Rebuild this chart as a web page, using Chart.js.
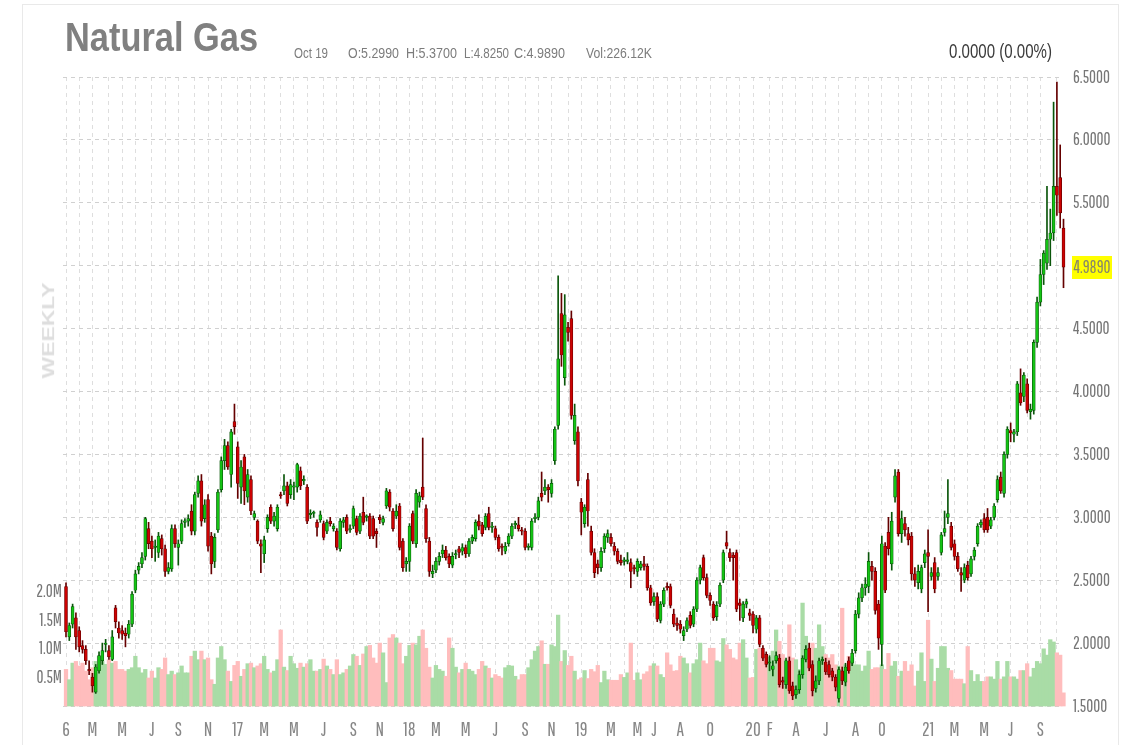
<!DOCTYPE html>
<html><head><meta charset="utf-8">
<script src="https://cdn.jsdelivr.net/npm/chart.js@4.4.0/dist/chart.umd.min.js"></script>
<style>
html,body{margin:0;padding:0;background:#fff;}
#wrap{position:relative;width:1132px;height:745px;overflow:hidden;background:#fff;}
#frame{position:absolute;left:22px;top:4px;width:1097px;height:800px;border:1px solid #e9e9e9;box-sizing:border-box;}
#c{position:absolute;left:0;top:0;}
.t{position:absolute;white-space:nowrap;line-height:1;font-family:"Liberation Sans",Arial,sans-serif;}
</style></head>
<body><div id="wrap"><div id="frame"></div><canvas id="c" width="1132" height="745"></canvas></div>
<script>
// ---------------- DATA (weekly, from week of 4 Jan 2016) ----------------
// rows: [open, high, low, close]
const candles2016 = [
[2.45,2.48,2.05,2.09],[2.05,2.16,2.02,2.14],[2.15,2.31,2.12,2.29],[2.20,2.24,1.95,2.05],[2.10,2.13,1.93,1.97],
[1.98,2.02,1.92,1.95],[1.95,1.98,1.83,1.86],[1.79,1.86,1.75,1.78],[1.73,1.76,1.61,1.66],[1.61,1.83,1.60,1.81],
[1.78,1.93,1.76,1.90],[1.86,2.00,1.83,1.94],[1.99,2.03,1.93,2.00],[1.94,1.98,1.87,1.89],[1.87,2.10,1.86,2.05],
[2.28,2.30,2.12,2.17],[2.12,2.17,2.04,2.08],[2.10,2.14,2.03,2.07],[2.08,2.12,1.97,2.06],[2.07,2.18,2.04,2.15],
[2.15,2.41,2.13,2.39],[2.42,2.58,2.40,2.55],[2.58,2.64,2.55,2.61],[2.63,2.72,2.60,2.68],[2.69,3.00,2.66,2.99],
[2.91,2.96,2.75,2.79],[2.81,2.85,2.68,2.75],[2.76,2.82,2.65,2.77],[2.72,2.88,2.68,2.85],[2.83,2.86,2.70,2.75],
[2.75,2.78,2.53,2.57],[2.57,2.64,2.55,2.60],[2.59,2.94,2.57,2.91],[2.91,2.94,2.76,2.79],[2.76,2.82,2.62,2.79],
[2.81,2.98,2.79,2.95],[2.96,2.99,2.92,2.97],[2.97,3.02,2.93,2.99],[3.05,3.10,2.86,2.89],[2.89,3.20,2.86,3.18],
[3.19,3.33,3.16,3.29],[3.29,3.34,2.93,2.97],[2.99,3.14,2.96,3.10],[3.14,3.18,2.73,2.77],[2.85,2.88,2.55,2.63],
[2.65,2.87,2.60,2.84],[2.90,3.22,2.88,3.20],[3.22,3.48,3.20,3.45],[3.45,3.62,3.38,3.57],[3.57,3.60,3.38,3.40],
[3.34,3.70,3.24,3.68],[3.76,3.90,3.66,3.72]];
const candles2017 = [
[3.56,3.60,3.15,3.27],[3.24,3.45,3.11,3.40],[3.48,3.50,3.10,3.21],[3.16,3.38,3.12,3.34],[3.30,3.33,3.02,3.05],
[3.00,3.05,2.98,3.03],[2.97,2.98,2.79,2.81],[2.79,2.82,2.56,2.77],[2.71,2.85,2.64,2.82],[2.91,3.02,2.88,3.00],
[3.08,3.10,2.95,2.97],[2.97,3.04,2.93,3.01],[2.91,3.10,2.89,3.08],[3.18,3.20,3.15,3.17],[3.21,3.34,3.18,3.25],
[3.25,3.28,3.09,3.11],[3.18,3.30,3.15,3.26],[3.24,3.28,3.14,3.25],[3.24,3.43,3.20,3.42],[3.37,3.40,3.22,3.25],
[3.29,3.33,3.26,3.30],[3.24,3.26,2.95,2.97],[3.02,3.06,2.99,3.03],[3.03,3.05,3.00,3.03],[2.96,2.98,2.85,2.92],
[2.98,3.05,2.96,3.02],[2.95,2.97,2.82,2.84],[2.89,2.98,2.87,2.96],[2.97,3.00,2.93,2.95],[2.91,2.95,2.89,2.93],
[2.89,2.91,2.74,2.76],[2.75,2.99,2.73,2.97],[2.96,3.00,2.92,2.98],[3.00,3.02,2.87,2.89],[2.90,2.94,2.88,2.91],
[2.93,3.09,2.91,3.07],[2.99,3.01,2.86,2.88],[2.89,3.03,2.87,3.01],[3.04,3.16,2.94,2.96],[3.00,3.02,2.97,3.00],
[3.01,3.03,2.83,2.85],[2.99,3.01,2.83,2.85],[2.89,2.91,2.76,2.87],[3.00,3.02,2.95,2.98],[2.96,3.01,2.94,2.99],
[3.09,3.23,3.07,3.21],[3.20,3.22,3.05,3.08],[3.05,3.07,2.89,2.91],[3.01,3.10,2.99,3.05],[3.09,3.11,2.74,2.76],
[2.81,2.83,2.57,2.60],[2.63,2.68,2.57,2.65],[2.65,2.95,2.57,2.93],[3.03,3.05,2.79,2.81]];
const candles2018 = [
[2.79,3.22,2.76,3.19],[3.12,3.20,3.08,3.17],[3.24,3.63,3.14,3.16],[3.07,3.10,2.80,2.83],[2.81,2.84,2.53,2.57],
[2.55,2.62,2.52,2.57],[2.58,2.68,2.56,2.65],[2.65,2.72,2.62,2.69],[2.71,2.78,2.68,2.74],[2.74,2.77,2.66,2.68],
[2.69,2.71,2.60,2.63],[2.62,2.72,2.60,2.69],[2.70,2.74,2.67,2.71],[2.75,2.77,2.68,2.72],[2.73,2.79,2.70,2.76],
[2.76,2.78,2.68,2.71],[2.71,2.83,2.69,2.81],[2.81,2.86,2.79,2.84],[2.83,2.98,2.81,2.96],[2.97,3.02,2.90,2.93],
[2.94,2.96,2.85,2.87],[2.92,3.03,2.90,3.01],[3.03,3.08,2.90,2.92],[2.92,2.96,2.88,2.93],[2.91,2.93,2.82,2.84],
[2.84,2.86,2.73,2.75],[2.77,2.79,2.70,2.76],[2.73,2.80,2.71,2.77],[2.79,2.87,2.77,2.85],[2.85,2.95,2.83,2.93],
[2.94,2.97,2.91,2.94],[2.94,3.00,2.89,2.91],[2.90,2.92,2.86,2.89],[2.89,2.91,2.74,2.76],[2.76,2.79,2.74,2.76],
[2.76,2.99,2.74,2.97],[2.99,3.03,2.96,3.00],[3.00,3.16,2.98,3.13],[3.19,3.36,3.13,3.16],[3.21,3.30,3.18,3.24],
[3.24,3.26,3.12,3.22],[3.19,3.30,3.16,3.27],[3.45,3.72,3.42,3.70],[3.73,4.92,3.70,4.26],[4.62,4.78,4.20,4.29],
[4.11,4.77,4.05,4.61],[4.51,4.55,4.40,4.47],[4.58,4.64,3.78,3.81],[3.61,3.90,3.58,3.81],[3.68,3.72,3.25,3.29],
[3.12,3.15,2.86,3.04],[2.95,3.10,2.92,3.08]];
const candles2019 = [
[3.30,3.35,2.93,3.05],[2.89,2.93,2.70,2.72],[2.72,2.75,2.52,2.56],[2.63,2.66,2.55,2.60],[2.60,2.76,2.57,2.73],
[2.75,2.87,2.72,2.85],[2.84,2.90,2.80,2.87],[2.84,2.87,2.77,2.79],[2.77,2.80,2.70,2.73],[2.73,2.75,2.63,2.65],
[2.66,2.70,2.62,2.64],[2.65,2.68,2.62,2.66],[2.65,2.72,2.63,2.66],[2.64,2.67,2.44,2.57],[2.60,2.62,2.55,2.59],
[2.57,2.67,2.53,2.65],[2.60,2.65,2.58,2.63],[2.63,2.69,2.58,2.61],[2.61,2.63,2.42,2.44],[2.44,2.46,2.30,2.32],
[2.33,2.40,2.30,2.37],[2.37,2.40,2.17,2.19],[2.18,2.33,2.16,2.31],[2.31,2.44,2.29,2.42],[2.45,2.48,2.42,2.44],
[2.45,2.47,2.28,2.30],[2.23,2.27,2.13,2.15],[2.16,2.20,2.10,2.14],[2.15,2.18,2.08,2.11],[2.06,2.13,2.02,2.10],
[2.11,2.20,2.09,2.18],[2.22,2.25,2.12,2.14],[2.15,2.29,2.13,2.27],[2.27,2.52,2.25,2.50],[2.50,2.62,2.47,2.60],
[2.68,2.70,2.50,2.52],[2.52,2.55,2.36,2.38],[2.38,2.40,2.30,2.34],[2.31,2.33,2.18,2.20],[2.21,2.33,2.18,2.30],
[2.31,2.48,2.29,2.46],[2.50,2.74,2.48,2.72],[2.80,2.89,2.75,2.77],[2.72,2.75,2.65,2.68],[2.70,2.72,2.50,2.68],
[2.72,2.74,2.25,2.27],[2.32,2.35,2.18,2.30],[2.20,2.33,2.17,2.31],[2.31,2.35,2.28,2.33],[2.24,2.27,2.18,2.22],
[2.23,2.25,2.08,2.14],[2.11,2.22,2.08,2.20]];
const candles2020 = [
[2.20,2.22,1.97,1.99],[1.96,1.98,1.86,1.88],[1.91,1.93,1.81,1.83],[1.84,1.90,1.78,1.85],[1.79,1.86,1.74,1.82],
[1.86,1.93,1.84,1.90],[1.88,1.91,1.65,1.67],[1.70,1.73,1.64,1.69],[1.67,1.88,1.64,1.86],[1.86,1.89,1.60,1.62],
[1.66,1.69,1.55,1.58],[1.59,1.66,1.56,1.63],[1.63,1.78,1.60,1.75],[1.75,1.90,1.72,1.88],[1.87,1.98,1.85,1.95],
[1.96,2.00,1.78,1.80],[1.83,1.86,1.58,1.62],[1.64,1.74,1.61,1.70],[1.70,1.88,1.67,1.86],[1.86,1.89,1.83,1.87],
[1.85,1.88,1.75,1.77],[1.83,1.86,1.73,1.75],[1.78,1.80,1.70,1.73],[1.73,1.75,1.62,1.65],[1.56,1.81,1.53,1.79],
[1.78,1.81,1.67,1.70],[1.69,1.84,1.66,1.81],[1.86,1.89,1.76,1.78],[1.84,1.95,1.82,1.92],[1.94,2.26,1.92,2.23],
[2.23,2.40,2.20,2.36],[2.36,2.47,2.33,2.44],[2.44,2.52,2.38,2.47],[2.45,2.72,2.40,2.65],[2.61,2.65,2.50,2.57],
[2.57,2.60,2.23,2.26],[2.31,2.34,1.95,2.04],[1.99,2.85,1.82,2.79],[2.77,2.80,2.40,2.42],[2.88,3.00,2.70,2.75],
[2.63,3.04,2.58,2.97],[3.16,3.38,3.12,3.33],[3.36,3.38,2.85,2.87],[2.87,3.05,2.80,2.99],[2.95,3.00,2.85,2.90],
[2.87,2.92,2.78,2.82],[2.85,2.88,2.50,2.55],[2.55,2.60,2.45,2.50],[2.48,2.62,2.43,2.57]];
const candles2021 = [
[2.43,2.62,2.40,2.60],[2.64,2.74,2.60,2.71],[2.72,2.90,2.25,2.69],[2.53,2.60,2.50,2.56],[2.64,2.68,2.40,2.43],
[2.53,2.60,2.50,2.56],[2.72,2.88,2.70,2.86],[2.88,3.05,2.85,2.91],[3.00,3.30,2.95,3.03],[2.93,2.96,2.74,2.76],
[2.79,2.82,2.66,2.69],[2.69,2.72,2.57,2.59],[2.56,2.60,2.41,2.54],[2.50,2.63,2.48,2.60],[2.62,2.65,2.50,2.52],
[2.55,2.69,2.53,2.67],[2.69,2.76,2.66,2.74],[2.79,2.95,2.77,2.93],[2.94,2.98,2.92,2.96],[2.99,3.03,2.88,2.90],
[3.00,3.07,2.88,2.90],[2.93,3.00,2.91,2.98],[3.00,3.11,2.98,3.09],[3.14,3.33,3.12,3.30],[3.32,3.36,3.19,3.21],
[3.19,3.52,3.16,3.50],[3.50,3.72,3.47,3.70],[3.69,3.75,3.60,3.67],[3.66,3.70,3.60,3.68],[3.68,4.08,3.65,4.06],
[3.99,4.18,3.89,3.91],[3.96,4.15,3.92,4.13],[4.06,4.10,3.83,3.85],[3.84,3.90,3.78,3.86],[3.85,4.41,3.82,4.39],
[4.39,4.75,4.35,4.71],[4.71,5.05,4.68,4.93],[4.93,5.12,4.85,5.10],[5.02,5.63,4.97,5.21],[5.21,5.45,5.00,5.26],
[5.26,6.30,5.20,5.63],[5.63,6.46,5.40,5.56],[5.70,5.96,5.30,5.42],[5.299,5.37,4.825,4.989]];

// weekly volume, millions of contracts
const vol2016 = [0.64,0.46,0.75,0.78,0.70,0.75,0.61,0.46,0.67,0.78,0.87,0.78,0.73,0.81,0.75,0.78,0.64,0.64,0.61,0.64,
0.67,0.87,0.67,0.58,0.64,0.49,0.61,0.49,0.67,0.64,0.84,0.55,0.61,0.55,0.58,0.70,0.58,0.58,0.87,0.96,
0.81,0.96,0.81,0.84,0.46,0.38,0.84,1.04,0.81,0.61,0.43,0.71];
const vol2017 = [0.78,0.52,0.64,0.74,0.75,0.67,0.70,0.74,0.87,0.64,0.58,0.61,0.81,1.33,0.68,0.62,0.87,0.74,0.66,0.75,
0.68,0.74,0.81,0.61,0.61,0.64,0.82,0.70,0.64,0.55,0.81,0.55,0.58,0.64,0.70,0.90,0.87,0.71,0.91,1.04,
1.06,0.84,0.75,1.10,0.93,0.41,1.19,1.25,1.19,1.10,0.74,0.87,1.06,1.10];
const vol2018 = [1.07,1.22,1.33,1.01,0.68,0.49,0.71,0.64,0.61,0.52,1.19,1.01,0.68,0.58,0.64,0.75,0.64,0.61,0.55,0.64,
0.78,0.70,0.66,0.49,0.55,0.52,0.49,0.67,0.71,0.70,0.52,0.46,0.55,0.55,0.67,0.81,0.96,1.04,1.14,0.73,
0.73,1.07,1.04,1.59,0.78,0.97,0.71,0.87,0.61,0.46,0.49,0.62];
const vol2019 = [0.48,0.64,0.60,0.71,0.41,0.61,0.46,0.45,0.45,0.45,0.55,0.50,0.58,1.10,0.45,0.58,0.46,0.56,0.60,0.70,
0.74,0.70,0.55,0.50,0.93,0.72,0.61,0.62,0.87,0.84,0.74,0.58,0.74,0.81,1.10,0.79,0.74,1.01,1.01,0.79,
0.77,1.18,1.07,0.99,0.84,0.81,1.10,1.16,0.84,0.49,0.50,0.99];
const vol2020 = [1.01,0.92,0.90,0.85,0.96,1.33,1.13,0.90,0.81,1.42,0.84,0.81,0.64,1.80,1.22,0.95,1.10,1.01,1.42,1.04,
0.90,0.84,0.90,0.72,0.70,1.71,0.72,0.87,0.84,0.72,0.72,0.61,0.70,0.96,0.64,0.67,0.67,0.72,0.64,0.92,
0.70,0.78,0.52,0.61,0.78,0.61,0.72,0.35,0.61];
const vol2021 = [0.93,0.43,1.50,0.82,0.43,0.66,1.04,1.04,0.66,0.62,0.47,0.47,0.47,0.39,1.04,0.62,0.43,0.55,0.43,0.43,
0.51,0.51,0.47,0.78,0.47,0.51,0.78,0.51,0.51,0.47,0.62,0.62,0.74,0.51,0.66,0.78,0.74,1.00,0.89,1.16,
1.12,0.93,0.89,0.23];

// x-axis labels (month of label, text)
const tickMonths = ['2016-01','2016-03','2016-05','2016-07','2016-09','2016-11','2017-01','2017-03','2017-05','2017-07','2017-09','2017-11',
'2018-01','2018-03','2018-05','2018-07','2018-09','2018-11','2019-01','2019-03','2019-05','2019-06','2019-08','2019-10',
'2020-01','2020-02','2020-04','2020-06','2020-08','2020-10','2021-01','2021-03','2021-05','2021-07','2021-09'];
const tickLabels = ['6','M','M','J','S','N','17','M','M','J','S','N','18','M','M','J','S','N','19','M','M','J','A','O',
'20','F','A','J','A','O','21','M','M','J','S'];
const volTickValues = [0.5,1.0,1.5,2.0];
const priceMin = 1.5, priceMax = 6.5, priceStep = 0.5;
const header = {name:'Natural Gas', date:'Oct 19', o:'5.2990', h:'5.3700', l:'4.8250', c:'4.9890', vol:'226.12K', chg:'0.0000 (0.00%)'};

// ---------------- BUILD ----------------
const candles = [].concat(candles2016,candles2017,candles2018,candles2019,candles2020,candles2021);
const volumes = [].concat(vol2016,vol2017,vol2018,vol2019,vol2020,vol2021);
const opens = candles.map(r=>r[0]), highs = candles.map(r=>r[1]), lows = candles.map(r=>r[2]), closes = candles.map(r=>r[3]);
const N = closes.length;
const isUp = i => closes[i] >= opens[i];

const START = Date.UTC(2016,0,4), WEEK = 7*864e5;
const weekOf = (y,m) => Math.round((Date.UTC(y,m,1)-START)/WEEK);
const gridVals = [], gridText = [];
for (let y=2016; y<=2021; y++) for (let m=0; m<12; m++) {
  if (y===2021 && m>9) break;
  const key = y+'-'+String(m+1).padStart(2,'0');
  const k = tickMonths.indexOf(key);
  gridVals.push(weekOf(y,m)); gridText.push(k>=0 ? tickLabels[k] : '');
}

function hasFont(f){
  const c=document.createElement('canvas').getContext('2d'); const s='MMMmmwwwlli1234567890.';
  c.font='40px monospace'; const a=c.measureText(s).width;
  c.font='40px "'+f+'", monospace'; const b=c.measureText(s).width;
  c.font='40px serif'; const a2=c.measureText(s).width;
  c.font='40px "'+f+'", serif'; const b2=c.measureText(s).width;
  return Math.abs(b-a)>0.5 && Math.abs(b2-a2)>0.5;
}
const HAS_PG = hasFont('Pathway Gothic One');
const tickFam = (HAS_PG ? '"Pathway Gothic One",' : '') + '"Roboto Condensed","Liberation Sans",sans-serif';
const yFont = {family:tickFam, size: HAS_PG?17:14};
const xFont = {family:tickFam, size: HAS_PG?19:16};

const GREEN='#14c414', GREEN_D='#0a560a', RED='#cc0202', RED_D='#650000';
const VG='#a9dca6', VR='#ffbdbd';

const FIRST_PX = 66, LAST_PX = 1063.5;
const xs = closes.map((_,i)=>i);
const lastLabel = {
  id:'lastLabel',
  afterDraw(chart){
    const ctx = chart.ctx, last = closes[N-1];
    const y = chart.scales.y.getPixelForValue(last);
    ctx.save();
    ctx.fillStyle='#ffff00'; ctx.fillRect(1072, Math.round(y-11.5), 40, 23);
    ctx.fillStyle='#86866a'; ctx.font = (HAS_PG?'18px ':'16px ')+tickFam; ctx.textBaseline='middle';
    const t = last.toFixed(4); const w = ctx.measureText(t).width;
    ctx.translate(1073.5, y+0.5); ctx.scale(37/w,1); ctx.fillText(t,0,0);
    ctx.restore();
  }
};

const chart = new Chart(document.getElementById('c'), {
  data: { datasets: [
    { type:'bar', label:'volume', data: xs.map(i=>({x:i, y:volumes[i]})), yAxisID:'yv', xAxisID:'x',
      backgroundColor: c=> isUp(c.dataIndex)?VG:VR, borderWidth:0, barThickness:3.6, grouped:false, order:3, clip:false },
    { type:'bar', label:'range', data: xs.map(i=>({x:i, y:[lows[i],highs[i]]})), yAxisID:'y', xAxisID:'x',
      backgroundColor: c=> isUp(c.dataIndex)?GREEN_D:RED_D, borderWidth:0, barThickness:1, grouped:false, order:2, clip:false },
    { type:'bar', label:'body', data: xs.map(i=>({x:i, y:[opens[i],closes[i]]})), yAxisID:'y', xAxisID:'x',
      backgroundColor: c=> isUp(c.dataIndex)?GREEN:RED, borderColor: c=> isUp(c.dataIndex)?GREEN_D:RED_D,
      borderWidth:0.7, borderSkipped:false, barThickness:3.0, minBarLength:1.4, grouped:false, order:1, clip:false }
  ]},
  options: {
    responsive:false, animation:false, devicePixelRatio:1,
    layout:{padding:{top:77,left:0,right:0,bottom:0}},
    plugins:{legend:{display:false}, tooltip:{enabled:false}},
    scales:{
      x:{ type:'linear', position:'bottom', min:-1, max:301, offset:false,
        afterBuildTicks: s=>{ s.ticks = gridVals.map(v=>({value:v})); },
        afterFit: s=>{ s.height = 39; },
        grid:{color:'#dedede', drawTicks:false, lineWidth:1, offset:false},
        border:{display:false, dash:[4,4]},
        ticks:{autoSkip:false, maxRotation:0, minRotation:0, padding:12, color:'#878787', font:xFont,
          callback:(v,i)=>gridText[i]} },
      y:{ type:'linear', position:'right', min:priceMin, max:priceMax,
        afterFit: s=>{ s.width = 72; },
        grid:{color:'#d0d0d0', drawTicks:false, lineWidth:1},
        border:{display:false, dash:[4,4]},
        ticks:{stepSize:priceStep, padding:13, color:'#767676', font:yFont, callback:v=>v.toFixed(4)} },
      yv:{ type:'linear', position:'left', min:0, max:11,
        afterBuildTicks: s=>{ s.ticks = volTickValues.map(v=>({value:v})); },
        afterFit: s=>{ s.width = 63; },
        grid:{display:false, drawTicks:false}, border:{display:false},
        ticks:{padding:1, color:'#767676', font:yFont, callback:v=>v.toFixed(1)+'M'} }
    }
  },
  plugins:[lastLabel]
});
(function(){
  const a = chart.chartArea, k = (LAST_PX-FIRST_PX)/(N-1);
  const min = -(FIRST_PX - a.left)/k;
  chart.options.scales.x.min = min;
  chart.options.scales.x.max = min + (a.right - a.left)/k;
  chart.update();
})();

// ---------------- HEADER TEXT (HTML) ----------------
const wrap = document.getElementById('wrap');
// place text so its baseline sits at `baseline`, then stretch it to the reference width and cap height
function addText(txt, left, baseline, size, weight, color, width, capH){
  const d = document.createElement('div'); d.className='t';
  d.appendChild(document.createTextNode(txt));
  const m = document.createElement('span');
  m.style.cssText='display:inline-block;width:0;height:0;vertical-align:baseline;';
  d.appendChild(m);
  d.style.fontSize = size+'px'; d.style.fontWeight = weight; d.style.color = color;
  d.style.left = left+'px'; d.style.top = '0px';
  wrap.appendChild(d);
  const base = m.getBoundingClientRect().top - d.getBoundingClientRect().top;
  const w = d.getBoundingClientRect().width;
  d.style.top = (baseline - base)+'px';
  const sx = width ? width/w : 1, sy = capH ? capH/(0.716*size) : 1;
  d.style.transformOrigin = '0px '+base+'px';
  d.style.transform = 'scale('+sx+','+sy+')';
  return d;
}
addText(header.name, 65, 51, 40, 'bold', '#808080', 193, 29);
addText(header.date, 294, 58, 14, 'normal', '#7c7c7c', 34, 10);
addText('O:'+header.o, 348, 58, 14, 'normal', '#7c7c7c', 51, 10);
addText('H:'+header.h, 406, 58, 14, 'normal', '#7c7c7c', 51, 10);
addText('L:'+header.l, 464, 58, 14, 'normal', '#7c7c7c', 45, 10);
addText('C:'+header.c, 514, 58, 14, 'normal', '#7c7c7c', 51, 10);
addText('Vol:'+header.vol, 586, 58, 14, 'normal', '#7c7c7c', 66, 10);
addText(header.chg, 949, 58, 20, 'normal', '#3a3a3a', 103, 14.5);
(function(){
  const d = document.createElement('div'); d.className='t'; d.textContent='WEEKLY';
  d.style.fontSize='17px'; d.style.fontWeight='bold'; d.style.color='#dedede';
  wrap.appendChild(d);
  const r = d.getBoundingClientRect();
  d.style.transformOrigin='50% 50%';
  d.style.left = (49 - r.width/2)+'px'; d.style.top = (330 - r.height/2)+'px';
  d.style.transform = 'rotate(-90deg) scaleX('+(96/r.width)+')';
})();
</script>
</body></html>
